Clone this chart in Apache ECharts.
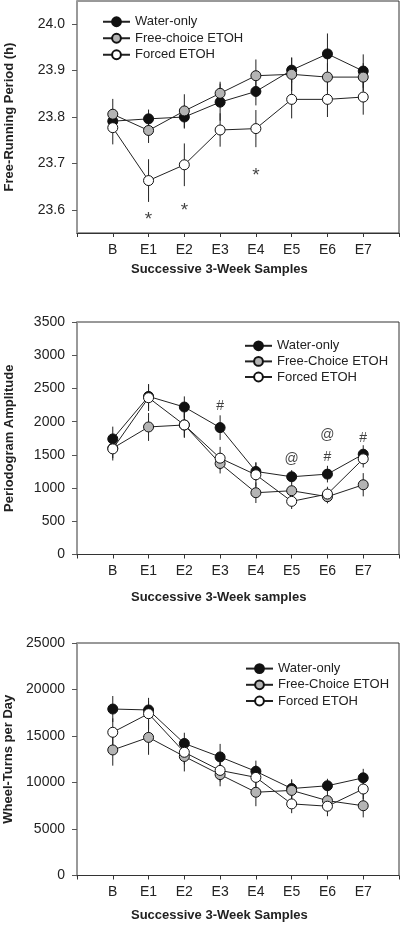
<!DOCTYPE html>
<html>
<head>
<meta charset="utf-8">
<script src="https://cdn.jsdelivr.net/npm/echarts@6/dist/echarts.min.js"></script>
<style>
html,body{margin:0;padding:0;background:#fff;}
#chart{width:400px;height:928px;}
</style>
</head>
<body>
<div id="chart"></div>
<script>
// ---------- DATA ----------
const categories = ['B', 'E1', 'E2', 'E3', 'E4', 'E5', 'E6', 'E7'];

// Panel 1: Free-running period (h)
const periodWater = [23.791, 23.796, 23.800, 23.832, 23.855, 23.901, 23.936, 23.899];
const periodWaterErr = [0.020, 0.020, 0.025, 0.040, 0.030, 0.027, 0.044, 0.036];
const periodFree = [23.806, 23.771, 23.813, 23.851, 23.889, 23.892, 23.886, 23.886];
const periodFreeErr = [0.033, 0.027, 0.036, 0.025, 0.035, 0.036, 0.030, 0.030];
const periodForced = [23.777, 23.663, 23.697, 23.772, 23.775, 23.838, 23.838, 23.843];
const periodForcedErr = [0.036, 0.046, 0.046, 0.036, 0.040, 0.041, 0.038, 0.038];
const periodMarks = ['*', '*', '*'];
const periodMarkX = [1, 2, 4];
const periodMarkY = [23.578, 23.597, 23.674];
const periodTicks = [23.6, 23.7, 23.8, 23.9, 24.0];

// Panel 2: Periodogram amplitude
const ampWater = [1740, 2380, 2220, 1910, 1250, 1170, 1210, 1510];
const ampWaterErr = [185, 185, 160, 185, 140, 100, 125, 135];
const ampFree = [1600, 1920, 1950, 1370, 930, 960, 870, 1050];
const ampFreeErr = [150, 210, 195, 150, 155, 120, 100, 175];
const ampForced = [1590, 2360, 1950, 1450, 1200, 800, 910, 1440];
const ampForcedErr = [175, 200, 180, 170, 180, 115, 110, 130];
const ampMarks = ['#', '@', '@', '#', '#'];
const ampMarkX = [3, 5, 6, 6, 7];
const ampMarkY = [2232, 1434, 1790, 1469, 1745];

// Panel 3: Wheel-turns per day
const wheelWater = [17900, 17800, 14200, 12750, 11200, 9350, 9650, 10500];
const wheelWaterErr = [1400, 970, 1150, 1400, 1150, 1000, 750, 970];
const wheelFree = [13500, 14850, 12800, 10850, 8950, 9150, 8050, 7500];
const wheelFreeErr = [1690, 1870, 1610, 1255, 1500, 1100, 1000, 1250];
const wheelForced = [15400, 17400, 13250, 11300, 10550, 7700, 7450, 9300];
const wheelForcedErr = [1500, 1700, 1300, 1200, 1300, 1000, 1076, 1100];

const titles = ['Successive 3-Week Samples', 'Successive 3-Week samples', 'Successive 3-Week Samples'];
const yNames = ['Free-Running Period (h)', 'Periodogram Amplitude', 'Wheel-Turns per Day'];
const legendNames1 = ['Water-only', 'Free-choice ETOH', 'Forced ETOH'];
const legendNames23 = ['Water-only', 'Free-Choice ETOH', 'Forced ETOH'];

// ---------- STYLE ----------
const FONT = "'Liberation Sans', Arial, Helvetica, sans-serif";
const fills = ['#111111', '#b4b4b4', '#ffffff'];

const grids = [
  {left: 77, right: 1, top: 1, height: 232},
  {left: 77, right: 1, top: 322, height: 232.5},
  {left: 77, right: 1, top: 643, height: 232.5}
].map(g => Object.assign(g, {show: true, borderColor: '#333', borderWidth: 1,
  backgroundColor: 'transparent', containLabel: false, outerBoundsMode: 'none'}));

function xAxis(i) {
  return {
    type: 'value', gridIndex: i, min: -1, max: 8, interval: 1,
    axisLine: {show: true, onZero: false, lineStyle: {color: '#333', width: 1}},
    axisTick: {show: true, length: 4, lineStyle: {color: '#333'}},
    splitLine: {show: false},
    axisLabel: {
      margin: 10, fontSize: 14, color: '#222', fontFamily: FONT,
      formatter: v => (v >= 0 && v < categories.length) ? categories[v] : ''
    }
  };
}

function yAxis(i, cfg) {
  return Object.assign({
    type: 'value', gridIndex: i,
    name: yNames[i], nameLocation: 'middle', nameGap: 61,
    nameTextStyle: {fontSize: 13, fontWeight: 'bold', color: '#222', fontFamily: FONT},
    axisLine: {show: true, onZero: false, lineStyle: {color: '#999', width: 2}},
    axisTick: {show: true, length: 5, lineStyle: {color: '#555'}},
    splitLine: {show: false},
    axisLabel: {margin: 12, fontSize: 14, color: '#222', fontFamily: FONT, formatter: v => String(v)}
  }, cfg);
}

function lineSeries(name, values, gi, fill) {
  return {
    type: 'line', name: name, xAxisIndex: gi, yAxisIndex: gi,
    data: values.map((v, k) => [k, v]),
    symbol: 'circle', symbolSize: 10,
    lineStyle: {color: '#222', width: 1},
    itemStyle: {color: fill, borderColor: '#111', borderWidth: 1},
    z: 3, animation: false
  };
}

function errSeries(values, errs, gi) {
  return {
    type: 'custom', xAxisIndex: gi, yAxisIndex: gi,
    data: values.map((v, k) => [k, v, errs[k]]),
    encode: {x: 0, y: 1},
    z: 2, silent: true, animation: false,
    renderItem: function (params, api) {
      const x = api.value(0), y = api.value(1), e = api.value(2);
      const p1 = api.coord([x, y - e]);
      const p2 = api.coord([x, y + e]);
      return {type: 'line', shape: {x1: p1[0], y1: p1[1], x2: p2[0], y2: p2[1]},
        style: {stroke: '#222', lineWidth: 1}};
    }
  };
}

function markSeries(labels, xs, ys, gi, size, weight) {
  return {
    type: 'scatter', xAxisIndex: gi, yAxisIndex: gi,
    data: labels.map((t, k) => ({value: [xs[k], ys[k]], name: t})),
    symbolSize: 1, itemStyle: {color: 'transparent'}, silent: true, animation: false,
    label: {show: true, position: 'inside', formatter: p => p.name,
      fontSize: size, fontWeight: weight, color: '#111', fontFamily: FONT}
  };
}

function legend(names, left, top, lh) {
  return {
    data: names, orient: 'vertical', left: left, top: top,
    itemWidth: 27, itemHeight: 11, itemGap: 0,
    textStyle: {fontSize: 13, color: '#222', fontFamily: FONT, lineHeight: lh},
    selectedMode: false
  };
}

const option = {
  animation: false,
  backgroundColor: '#fff',
  title: titles.map((t, k) => ({
    text: t, left: 131, top: [263, 591, 909][k], padding: 0,
    textStyle: {fontSize: 13, fontWeight: 'bold', color: '#222', fontFamily: FONT}
  })),
  grid: grids,
  xAxis: [xAxis(0), xAxis(1), xAxis(2)],
  yAxis: [
    yAxis(0, {min: 23.55, max: 24.05,
      axisLabel: {margin: 12, fontSize: 14, color: '#222', fontFamily: FONT, customValues: periodTicks, formatter: v => v.toFixed(1)},
      axisTick: {show: true, length: 5, lineStyle: {color: '#555'}, customValues: periodTicks}}),
    yAxis(1, {min: 0, max: 3500, interval: 500}),
    yAxis(2, {min: 0, max: 25000, interval: 5000})
  ],
  legend: [
    legend(legendNames1, 97, 8.5, 16.5),
    legend(legendNames23, 239, 333, 15.6),
    legend(legendNames23, 240, 655.5, 16.2)
  ],
  series: [
    errSeries(periodWater, periodWaterErr, 0),
    errSeries(periodFree, periodFreeErr, 0),
    errSeries(periodForced, periodForcedErr, 0),
    lineSeries(legendNames1[0], periodWater, 0, fills[0]),
    lineSeries(legendNames1[1], periodFree, 0, fills[1]),
    lineSeries(legendNames1[2], periodForced, 0, fills[2]),
    markSeries(periodMarks, periodMarkX, periodMarkY, 0, 19, 'normal'),

    errSeries(ampWater, ampWaterErr, 1),
    errSeries(ampFree, ampFreeErr, 1),
    errSeries(ampForced, ampForcedErr, 1),
    lineSeries(legendNames23[0], ampWater, 1, fills[0]),
    lineSeries(legendNames23[1], ampFree, 1, fills[1]),
    lineSeries(legendNames23[2], ampForced, 1, fills[2]),
    markSeries(ampMarks, ampMarkX, ampMarkY, 1, 14, 'normal'),

    errSeries(wheelWater, wheelWaterErr, 2),
    errSeries(wheelFree, wheelFreeErr, 2),
    errSeries(wheelForced, wheelForcedErr, 2),
    lineSeries(legendNames23[0], wheelWater, 2, fills[0]),
    lineSeries(legendNames23[1], wheelFree, 2, fills[1]),
    lineSeries(legendNames23[2], wheelForced, 2, fills[2])
  ]
};

const chart = echarts.init(document.getElementById('chart'), null, {renderer: 'canvas'});
chart.setOption(option);
</script>
</body>
</html>
